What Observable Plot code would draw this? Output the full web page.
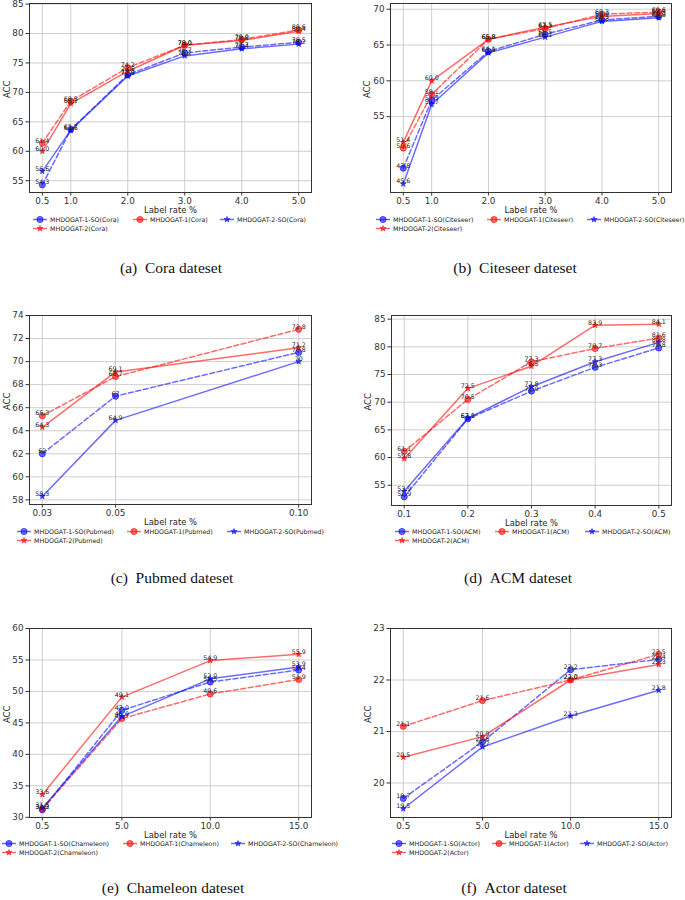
<!DOCTYPE html>
<html><head><meta charset="utf-8">
<script src="https://cdn.jsdelivr.net/npm/d3@7"></script>
<script src="https://cdn.jsdelivr.net/npm/@observablehq/plot@0.6"></script>
<style>
body{margin:0;background:#fff;}
#root{position:relative;width:685px;height:900px;overflow:hidden;font-family:"DejaVu Sans",sans-serif;background:#fff;}
.panel{position:absolute;}
.cap{position:absolute;width:300px;text-align:center;font-family:"Liberation Serif","DejaVu Serif",serif;font-size:15.5px;color:#111;line-height:16px;}
.leg{position:absolute;font-size:6.3px;color:#222;white-space:nowrap;display:flex;align-items:center;height:9px;line-height:9px;}
.leg svg{margin-right:3px;overflow:visible;}
</style></head><body><div id="root"></div>
<script>
// ---------- data ----------
const seriesNames = ["MHDOGAT-1-SO", "MHDOGAT-1", "MHDOGAT-2-SO", "MHDOGAT-2"];

const coraRates = [0.5, 1, 2, 3, 4, 5];
const cora1SO = [54.3, 63.7, 73.0, 76.7, 77.7, 78.5];
const cora1   = [61.4, 68.5, 74.2, 78.0, 79.0, 80.6];
const cora2SO = [56.6, 63.6, 72.8, 76.2, 77.4, 78.2];
const cora2   = [60.0, 68.1, 73.6, 78.0, 78.8, 80.4];
const coraYTicks = [55, 60, 65, 70, 75, 80, 85];

const citeRates = [0.5, 1, 2, 3, 4, 5];
const cite1SO = [47.8, 57.3, 64.1, 66.5, 68.5, 69.0];
const cite1   = [50.6, 58.1, 65.8, 67.3, 69.3, 69.6];
const cite2SO = [45.6, 56.7, 63.9, 66.1, 68.3, 68.8];
const cite2   = [51.4, 60.0, 65.8, 67.5, 69.0, 69.4];
const citeYTicks = [55, 60, 65, 70];

const pubRates = [0.03, 0.05, 0.10];
const pub1SO = [62, 67, 70.8];
const pub1   = [65.3, 68.7, 72.8];
const pub2SO = [58.3, 64.9, 70];
const pub2   = [64.3, 69.1, 71.2];
const pubYTicks = [58, 60, 62, 64, 66, 68, 70, 72, 74];

const acmRates = [0.1, 0.2, 0.3, 0.4, 0.5];
const acm1SO = [52.9, 67.0, 72.0, 76.3, 79.8];
const acm1   = [61.1, 70.5, 77.3, 79.7, 81.6];
const acm2SO = [53.9, 67.1, 72.8, 77.3, 80.8];
const acm2   = [59.8, 72.5, 76.5, 83.9, 84.1];
const acmYTicks = [55, 60, 65, 70, 75, 80, 85];

const chamRates = [0.5, 5, 10, 15];
const cham1SO = [31.2, 47.0, 51.5, 53.4];
const cham1   = [31.3, 45.7, 49.6, 51.9];
const cham2SO = [31.5, 46.0, 52.0, 53.9];
const cham2   = [33.6, 49.1, 54.9, 55.9];
const chamYTicks = [30, 35, 40, 45, 50, 55, 60];

const actRates = [0.5, 5, 10, 15];
const act1SO = [19.7, 20.8, 22.2, 22.4];
const act1   = [21.1, 21.6, 22.0, 22.5];
const act2SO = [19.5, 20.7, 21.3, 21.8];
const act2   = [20.5, 20.9, 22.0, 22.3];
const actYTicks = [20, 21, 22, 23];

// ---------- layout ----------
const panels = [
  {name:"Cora", cap:"(a)\u2002Cora dateset", rates:coraRates, s:[cora1SO,cora1,cora2SO,cora2], yTicks:coraYTicks,
   xDomain:[0.275,5.225], yDomain:[53.0,85.1], xFmt:".1f", lblFmt:v=>v.toFixed(1),
   svgLeft:0, width:340, fl:29, fr:311, ft:3, fb:192, mt:3, legX:[33,133,220], legY:215, capX:171, capY:260, accDx:-22},
  {name:"Citeseer", cap:"(b)\u2002Citeseer dateset", rates:citeRates, s:[cite1SO,cite1,cite2SO,cite2], yTicks:citeYTicks,
   xDomain:[0.275,5.225], yDomain:[44.4,70.8], xFmt:".1f", lblFmt:v=>v.toFixed(1),
   svgLeft:340, width:345, fl:390, fr:671, ft:3, fb:192, mt:3, legX:[376,487,587], legY:215, capX:515, capY:260, accDx:-23},
  {name:"Pubmed", cap:"(c)\u2002Pubmed dateset", rates:pubRates, s:[pub1SO,pub1,pub2SO,pub2], yTicks:pubYTicks,
   xDomain:[0.0265,0.1035], yDomain:[57.6,74], xFmt:".2f", lblFmt:v=>String(v),
   svgLeft:0, width:340, fl:29, fr:311, ft:315, fb:504, mt:8, legX:[17,127,227], legY:527, capX:172, capY:570, accDx:-22},
  {name:"ACM", cap:"(d)\u2002ACM dateset", rates:acmRates, s:[acm1SO,acm1,acm2SO,acm2], yTicks:acmYTicks,
   xDomain:[0.08,0.52], yDomain:[51.34,85.66], xFmt:".1f", lblFmt:v=>v.toFixed(1),
   svgLeft:340, width:345, fl:391, fr:671, ft:315, fb:505, mt:8, legX:[395,495,585], legY:527, capX:518, capY:570, accDx:-23},
  {name:"Chameleon", cap:"(e)\u2002Chameleon dateset", rates:chamRates, s:[cham1SO,cham1,cham2SO,cham2], yTicks:chamYTicks,
   xDomain:[-0.225,15.725], yDomain:[29.97,60], xFmt:".1f", lblFmt:v=>v.toFixed(1),
   svgLeft:0, width:340, fl:29, fr:311, ft:628, fb:817, mt:8, legX:[2,123,231], legY:839, capX:173, capY:880, accDx:-22},
  {name:"Actor", cap:"(f)\u2002Actor dateset", rates:actRates, s:[act1SO,act1,act2SO,act2], yTicks:actYTicks,
   xDomain:[-0.225,15.725], yDomain:[19.33,23], xFmt:".1f", lblFmt:v=>v.toFixed(1),
   svgLeft:340, width:345, fl:390, fr:671, ft:628, fb:817, mt:8, legX:[392,492,580], legY:839, capX:514, capY:880, accDx:-22}
];

const styles = [
  {color:"blue", dash:"5,2.6", symbol:"circle", r:3.1},
  {color:"red",  dash:"5,2.6", symbol:"circle", r:3.1},
  {color:"blue", dash:null,    symbol:"star",   r:1.8},
  {color:"red",  dash:null,    symbol:"star",   r:1.8}
];
const alpha = 0.58;

const root = document.getElementById("root");

panels.forEach(p => {
  const rows = [];
  p.s.forEach((vals, si) => vals.forEach((v, i) => rows.push({series: si, x: p.rates[i], y: v})));
  const marks = [
    Plot.ruleX(p.rates, {stroke:"#c8c8c8", strokeWidth:0.9}),
    Plot.ruleY(p.yTicks, {stroke:"#c8c8c8", strokeWidth:0.9})
  ];
  styles.forEach((st, si) => {
    const d = rows.filter(r => r.series === si);
    const lineOpts = {x:"x", y:"y", stroke:st.color, strokeOpacity:alpha, strokeWidth:1.5};
    if (st.dash) lineOpts.strokeDasharray = st.dash;
    marks.push(Plot.line(d, lineOpts));
    marks.push(Plot.dot(d, {x:"x", y:"y", symbol:st.symbol, r:st.r, fill:st.color, fillOpacity:alpha, stroke:st.color, strokeOpacity:alpha, strokeWidth:1}));
  });
  marks.push(Plot.text(rows, {x:"x", y:"y", text:d => p.lblFmt(d.y), lineAnchor:"bottom", dy:-0.5, fontSize:6.3, fill:"#222"}));
  marks.push(Plot.frame({stroke:"#333", strokeWidth:1}));
  marks.push(Plot.text(["Label rate %"], {frameAnchor:"bottom", dy:20, fontSize:8.4, fill:"#222"}));
  marks.push(Plot.text(["ACC"], {frameAnchor:"left", dx:p.accDx, rotate:-90, fontSize:8.4, fill:"#222"}));

  const mb = 27;
  const height = (p.fb - p.ft) + p.mt + mb;
  const chart = Plot.plot({
    width: p.width,
    height: height,
    marginLeft: p.fl - p.svgLeft,
    marginRight: p.svgLeft + p.width - p.fr,
    marginTop: p.mt,
    marginBottom: mb,
    style: {fontSize:"8.8px", fontFamily:"DejaVu Sans, sans-serif", color:"#333", background:"transparent", overflow:"visible"},
    x: {domain:p.xDomain, ticks:p.rates, tickFormat:d3.format(p.xFmt), tickSize:3.5, tickPadding:2, label:null},
    y: {domain:p.yDomain, ticks:p.yTicks, tickFormat:d => String(d), tickSize:3.5, tickPadding:2.5, label:null},
    marks
  });
  const wrap = document.createElement("div");
  wrap.className = "panel";
  wrap.style.left = p.svgLeft + "px";
  wrap.style.top = (p.ft - p.mt) + "px";
  wrap.appendChild(chart);
  root.appendChild(wrap);

  // legend (3 columns, 2 rows)
  seriesNames.forEach((nm, si) => {
    const st = styles[si];
    const col = si % 3, row = Math.floor(si / 3);
    const el = document.createElement("div");
    el.className = "leg";
    el.style.left = p.legX[col] + "px";
    el.style.top = (p.legY + row * 9) + "px";
    const sym = st.symbol === "circle"
      ? `<circle cx="7" cy="4.5" r="${st.r}" fill="${st.color}" fill-opacity="${alpha}" stroke="${st.color}" stroke-opacity="${alpha}"/>`
      : `<path transform="translate(7,4.5)" d="${d3.symbol(d3.symbolStar, Math.PI * st.r * st.r)()}" fill="${st.color}" fill-opacity="${alpha}" stroke="${st.color}" stroke-opacity="${alpha}"/>`;
    el.innerHTML = `<svg width="14" height="9"><line x1="0" x2="14" y1="4.5" y2="4.5" stroke="${st.color}" stroke-opacity="${alpha}" stroke-width="1.5"/>${sym}</svg><span>${nm}(${p.name})</span>`;
    root.appendChild(el);
  });

  const cap = document.createElement("div");
  cap.className = "cap";
  cap.style.left = (p.capX - 150) + "px";
  cap.style.top = p.capY + "px";
  cap.textContent = p.cap;
  root.appendChild(cap);
});
</script></body></html>
